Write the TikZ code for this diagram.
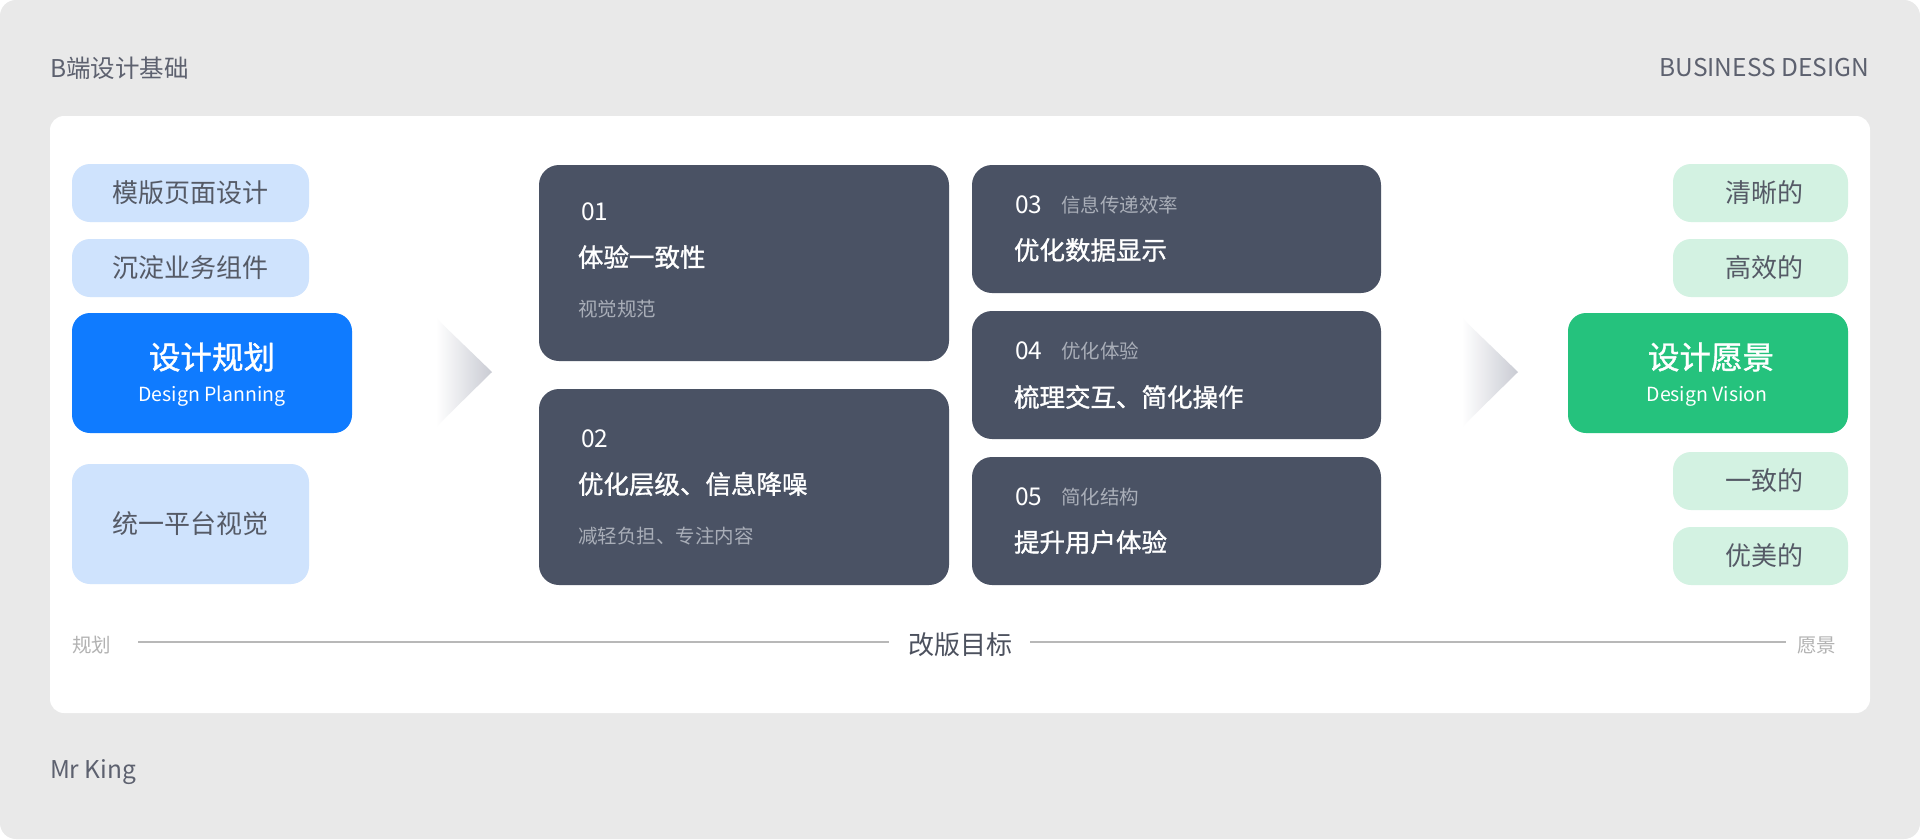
\documentclass[tikz,border=0pt]{standalone}
\usepackage{fontspec}
\setmainfont{Noto Sans CJK SC}
\newfontfamily\medfont{Noto Sans CJK SC}[FakeBold=1.3]
\usetikzlibrary{calc}
\newcommand{\pxf}[1]{\fontsize{#1}{#1}\selectfont}
\definecolor{bggray}{HTML}{E9E9E9}
\definecolor{headgray}{HTML}{5D616F}
\definecolor{lblue}{HTML}{CFE3FD}
\definecolor{mblue}{HTML}{0F7BFF}
\definecolor{darkbox}{HTML}{4A5264}
\definecolor{lgreen}{HTML}{D3F2E2}
\definecolor{mgreen}{HTML}{25C27D}
\definecolor{boxtext}{HTML}{555A66}
\definecolor{subgray}{HTML}{A9AEB8}
\definecolor{axisgray}{HTML}{B2B2B2}
\definecolor{linegray}{HTML}{B8B8B8}
\definecolor{goaltext}{HTML}{4C515E}
\definecolor{chev}{HTML}{C9CBD3}
\tikzset{
  base/.style={inner sep=0pt, outer sep=0pt},
  lbox/.style={base, fill=lblue, rounded corners=18pt, anchor=north west, text=boxtext, font=\pxf{26}, minimum width=237pt},
  gbox/.style={base, fill=lgreen, rounded corners=18pt, anchor=north west, text=boxtext, font=\pxf{26}, minimum width=175pt, minimum height=58pt},
  bigbox/.style={base, rounded corners=18pt, anchor=north west, minimum width=280pt, minimum height=120pt},
  dbox/.style={base, fill=darkbox, rounded corners=20pt, anchor=north west},
  numtxt/.style={base, anchor=west, text=white, font=\pxf{24.5}},
  titletxt/.style={base, anchor=west, text=white, font=\medfont\pxf{25.5}},
  subtxt/.style={base, anchor=west, text=subgray, font=\pxf{19.5}},
  bigtitle/.style={base, text=white, font=\medfont\pxf{31.5}},
  bigsub/.style={base, text=white, font=\pxf{19.5}},
  headtxt/.style={base, text=headgray, font=\pxf{24.5}},
  axislbl/.style={base, text=axisgray, font=\pxf{19.5}},
  axisline/.style={draw=linegray, line width=1.2pt},
}
\begin{document}
\begin{tikzpicture}[x=1pt,y=-1pt]
\useasboundingbox (0,0) rectangle (1920,839);
\fill[white] (0,0) rectangle (1920,839);
\fill[bggray, rounded corners=16pt] (0,0) rectangle (1920,839);
% header / footer
\node[headtxt, anchor=west] (head) at (50,68) {B端设计基础};
\node[headtxt, anchor=east] (biz) at (1869,68) {BUSINESS DESIGN};
\node[headtxt, anchor=west] (author) at (50,772) {Mr King};
% white panel
\fill[white, rounded corners=14pt] (50,116) rectangle (1870,713);
% left column
\node[lbox, minimum height=58pt] (l1) at (72,164) {模版页面设计};
\node[lbox, minimum height=58pt] (l2) at (72,239) {沉淀业务组件};
\node[bigbox, fill=mblue] (plan) at (72,313) {};
\node[bigtitle] (plant) at (212,357) {设计规划};
\node[bigsub] (plans) at (212,396) {Design Planning};
\node[lbox, minimum height=120pt] (l4) at (72,464) {统一平台视觉};
% chevrons
\shade[left color=white, right color=chev] (436,318) -- (492,372) -- (436,427) -- cycle;
\shade[left color=white, right color=chev] (1462,318) -- (1518,372) -- (1462,427) -- cycle;
% middle boxes
\node[dbox, minimum width=410pt, minimum height=196pt] (d1) at (539,165) {};
\node[numtxt] (d1n) at (581,212) {01};
\node[titletxt] (d1t) at (578,257) {体验一致性};
\node[subtxt] (d1s) at (578,309) {视觉规范};
\node[dbox, minimum width=410pt, minimum height=196pt] (d2) at (539,389) {};
\node[numtxt] (d2n) at (581,439) {02};
\node[titletxt] (d2t) at (578,484) {优化层级、信息降噪};
\node[subtxt] (d2s) at (578,536) {减轻负担、专注内容};
\node[dbox, minimum width=409pt, minimum height=128pt] (d3) at (972,165) {};
\node[numtxt] (d3n) at (1015,205) {03};
\node[subtxt] (d3s) at (1061,205) {信息传递效率};
\node[titletxt] (d3t) at (1014,250) {优化数据显示};
\node[dbox, minimum width=409pt, minimum height=128pt] (d4) at (972,311) {};
\node[numtxt] (d4n) at (1015,351) {04};
\node[subtxt] (d4s) at (1061,351) {优化体验};
\node[titletxt] (d4t) at (1014,397) {梳理交互、简化操作};
\node[dbox, minimum width=409pt, minimum height=128pt] (d5) at (972,457) {};
\node[numtxt] (d5n) at (1015,497) {05};
\node[subtxt] (d5s) at (1061,497) {简化结构};
\node[titletxt] (d5t) at (1014,542) {提升用户体验};
% right column
\node[gbox] (r1) at (1673,164) {\hspace*{8pt}清晰的};
\node[gbox] (r2) at (1673,239) {\hspace*{8pt}高效的};
\node[bigbox, fill=mgreen] (vision) at (1568,313) {};
\node[bigtitle] (visiont) at (1711,357) {设计愿景};
\node[bigsub] (visions) at (1707,396) {Design Vision};
\node[gbox] (r3) at (1673,452) {\hspace*{8pt}一致的};
\node[gbox] (r4) at (1673,527) {\hspace*{8pt}优美的};
% axis
\node[axislbl, anchor=west] (ax1) at (72,645) {规划};
\node[base, text=goaltext, font=\pxf{26}] (goal) at (960,645) {改版目标};
\node[axislbl, anchor=east] (ax2) at (1836,645) {愿景};
\draw[axisline] ($(ax1.east)+(27,-3)$) -- ($(goal.west)+(-19,-3)$);
\draw[axisline] ($(goal.east)+(18,-3)$) -- ($(ax2.west)+(-11,-3)$);
\end{tikzpicture}
\end{document}
